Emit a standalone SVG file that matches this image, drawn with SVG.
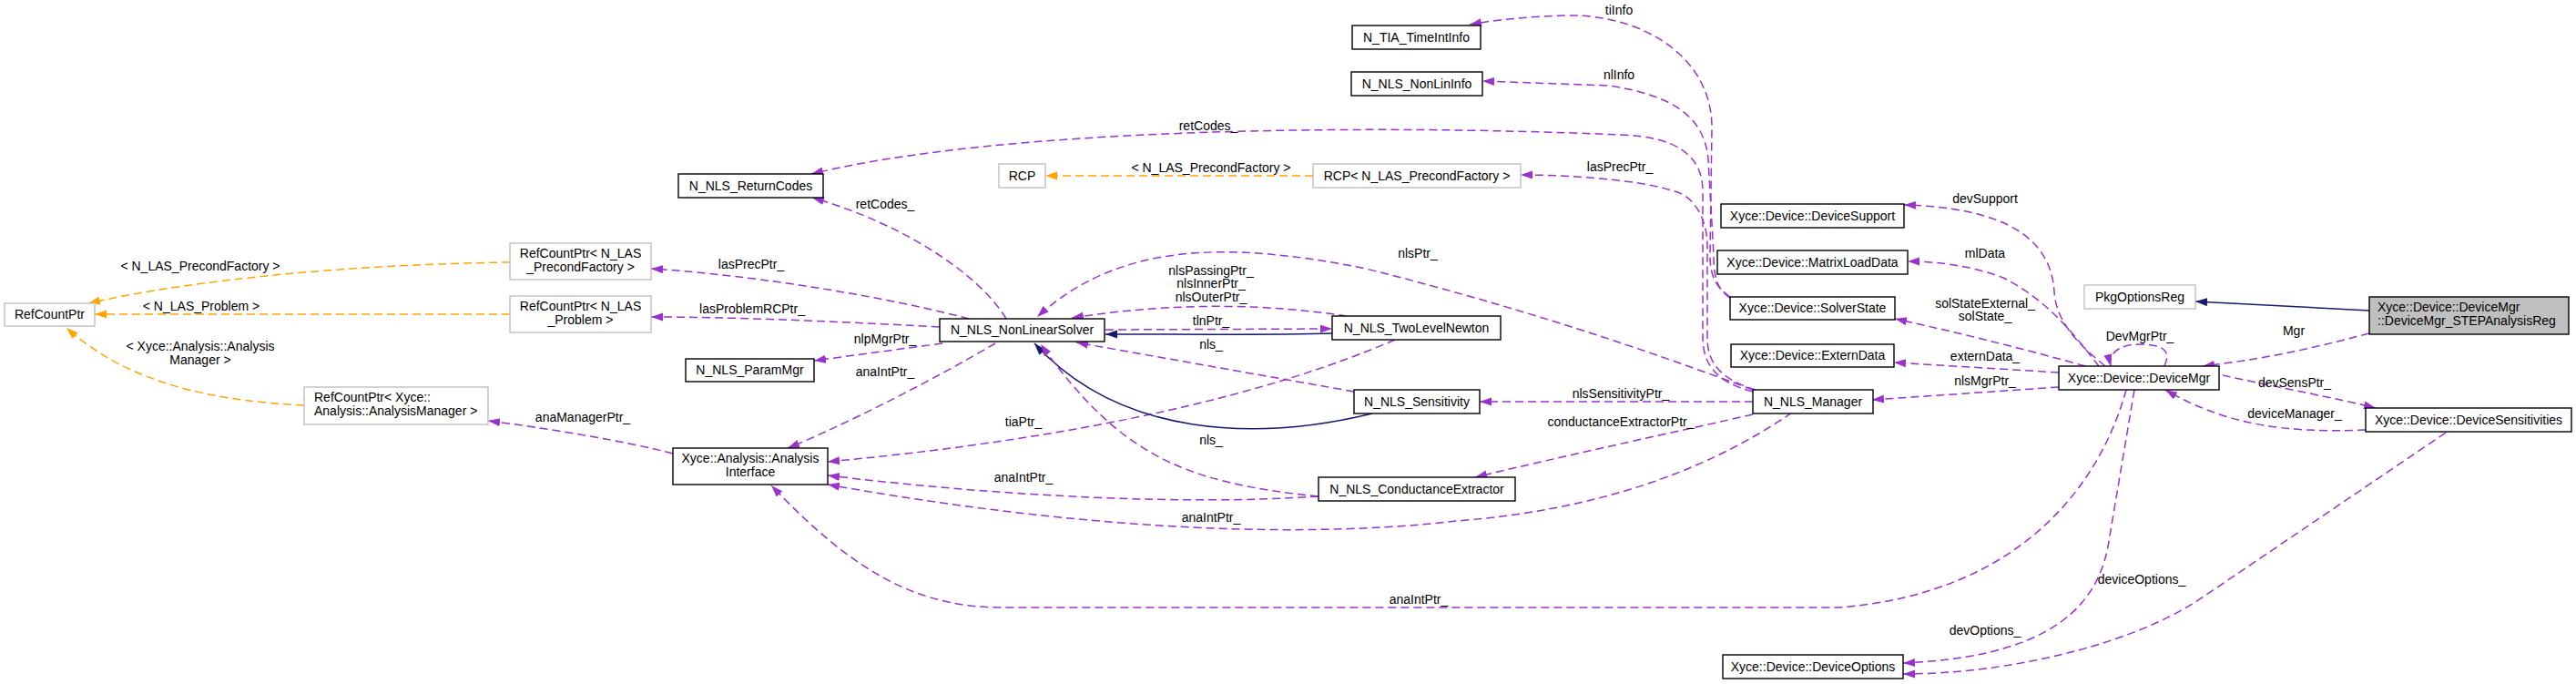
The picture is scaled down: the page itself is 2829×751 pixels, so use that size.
<svg xmlns="http://www.w3.org/2000/svg" width="2829" height="751" viewBox="0 0 2829 751">
<style>
text{font-family:"Liberation Sans",Arial,sans-serif;font-size:14px;fill:#000}
.n rect{fill:#fff;stroke:#000;stroke-width:1.4}
.g rect{fill:#fff;stroke:#bfbfbf;stroke-width:1.4}
.f rect{fill:#bfbfbf;stroke:#000;stroke-width:1.4}
.c{text-anchor:middle}
.p{fill:none;stroke:#9a32cd;stroke-width:1.5;stroke-dasharray:9,5;marker-end:url(#ap)}
.o{fill:none;stroke:#ffa500;stroke-width:1.5;stroke-dasharray:9,5;marker-end:url(#ao)}
.b{fill:none;stroke:#191970;stroke-width:1.5;marker-end:url(#ab)}
.l{text-anchor:middle}
</style>
<defs>
<marker id="ap" markerUnits="userSpaceOnUse" markerWidth="14" markerHeight="10" refX="13" refY="4.5" orient="auto"><path d="M0,0 L13,4.5 L0,9 z" fill="#9a32cd"/></marker>
<marker id="ao" markerUnits="userSpaceOnUse" markerWidth="14" markerHeight="10" refX="13" refY="4.5" orient="auto"><path d="M0,0 L13,4.5 L0,9 z" fill="#ffa500"/></marker>
<marker id="ab" markerUnits="userSpaceOnUse" markerWidth="14" markerHeight="10" refX="13" refY="4.5" orient="auto"><path d="M0,0 L13,4.5 L0,9 z" fill="#191970"/></marker>
</defs>
<rect width="2829" height="751" fill="#fff"/>
<g id="edges">
<path class="o" d="M560,288 C400,290 220,305 97,333"/>
<text class="l" x="220" y="297">&lt; N_LAS_PrecondFactory &gt;</text>
<path class="o" d="M560,345 L104,345"/>
<text class="l" x="221" y="341">&lt; N_LAS_Problem &gt;</text>
<path class="o" d="M334,445 C230,440 140,420 73,360"/>
<text class="l" x="220" y="385">&lt; Xyce::Analysis::Analysis</text>
<text class="l" x="220" y="400">Manager &gt;</text>
<path class="o" d="M1442,193 L1148,193"/>
<text class="l" x="1330" y="189">&lt; N_LAS_PrecondFactory &gt;</text>
<path class="p" d="M739,498 C690,485 600,470 536,462"/>
<text class="l" x="640" y="463">anaManagerPtr_</text>
<path class="p" d="M1105,350 C1075,300 990,245 892,217"/>
<text class="l" x="972" y="229">retCodes_</text>
<path class="p" d="M1064,350 C950,320 800,300 715,295"/>
<text class="l" x="825" y="295">lasPrecPtr_</text>
<path class="p" d="M1032,359 C900,352 800,348 715,348"/>
<text class="l" x="826" y="344">lasProblemRCPtr_</text>
<path class="p" d="M1035,377 L894,396"/>
<text class="l" x="972" y="377">nlpMgrPtr_</text>
<path class="p" d="M1093,377 C1020,420 920,470 865,492"/>
<text class="l" x="972" y="413">anaIntPtr_</text>
<path class="p" d="M1479,347 C1400,335 1300,330 1177,349"/>
<text class="l" x="1330" y="302">nlsPassingPtr_</text>
<text class="l" x="1330" y="316">nlsInnerPtr_</text>
<text class="l" x="1330" y="331">nlsOuterPtr_</text>
<path class="p" d="M1214,362 L1463,361"/>
<text class="l" x="1330" y="357">tlnPtr_</text>
<path class="b" d="M1463,366 C1400,368 1300,367 1214,367"/>
<path class="p" d="M1487,430 L1182,376"/>
<text class="l" x="1330" y="383">nls_</text>
<path class="p" d="M1532,373 C1400,430 1200,480 909,507"/>
<text class="l" x="1124" y="468">tiaPtr_</text>
<path class="b" d="M1507,454 C1380,485 1230,480 1136,377"/>
<path class="p" d="M1448,545 C1300,530 1230,500 1143,378"/>
<text class="l" x="1330" y="488">nls_</text>
<path class="p" d="M1448,545 C1300,555 1100,545 909,522"/>
<text class="l" x="1124" y="529">anaIntPtr_</text>
<path class="p" d="M1968,453 C1870,520 1750,560 1600,572 C1400,595 1150,575 909,532"/>
<text class="l" x="1330" y="573">anaIntPtr_</text>
<path class="p" d="M2335,428 C2310,520 2230,650 2020,667 L1100,667 C1000,667 930,620 847,533"/>
<text class="l" x="1558" y="663">anaIntPtr_</text>
<path class="p" d="M1925,441 L1625,441"/>
<text class="l" x="1780" y="437">nlsSensitivityPtr_</text>
<path class="p" d="M1925,455 C1850,472 1720,500 1620,524"/>
<text class="l" x="1780" y="468">conductanceExtractorPtr_</text>
<path class="p" d="M1925,428 C1850,400 1700,345 1500,295 C1350,265 1230,265 1139,348"/>
<text class="l" x="1557" y="283">nlsPtr_</text>
<path class="p" d="M1925,430 C1885,420 1870,400 1870,370 L1870,210 C1870,170 1840,150 1780,148 C1500,136 1100,140 891,191"/>
<text class="l" x="1327" y="143">retCodes_</text>
<path class="p" d="M1928,428 C1885,415 1875,395 1875,370 L1875,270 C1875,240 1860,215 1839,210 C1800,197 1720,192 1670,192"/>
<text class="l" x="1779" y="188">lasPrecPtr_</text>
<path class="p" d="M1900,326 C1885,315 1878,305 1878,280 L1880,140 C1880,60 1800,15 1720,17 C1680,18 1640,22 1614,27"/>
<text class="l" x="1778" y="16">tiInfo</text>
<path class="p" d="M1900,327 C1886,318 1882,305 1882,280 L1876,175 C1872,130 1840,105 1767,94 L1628,89"/>
<text class="l" x="1778" y="87">nlInfo</text>
<path class="p" d="M2312,402 C2285,380 2258,355 2256,320 C2252,260 2200,228 2091,225"/>
<text class="l" x="2180" y="223">devSupport</text>
<path class="p" d="M2305,402 C2280,370 2250,330 2200,305 C2160,290 2120,287 2095,287"/>
<text class="l" x="2180" y="283">mlData</text>
<path class="p" d="M2290,402 C2230,385 2150,365 2081,350"/>
<text class="l" x="2180" y="338">solStateExternal_</text>
<text class="l" x="2180" y="352">solState_</text>
<path class="p" d="M2261,409 L2080,398"/>
<text class="l" x="2180" y="396">externData_</text>
<path class="p" d="M2261,425 L2056,439"/>
<text class="l" x="2180" y="423">nlsMgrPtr_</text>
<path class="p" d="M2377,402 C2385,385 2375,378 2350,378 C2325,378 2315,390 2318,402"/>
<text class="l" x="2350" y="374">DevMgrPtr_</text>
<path class="p" d="M2602,366 C2530,385 2480,395 2419,402"/>
<text class="l" x="2519" y="368">Mgr</text>
<path class="b" d="M2602,341 L2411,331"/>
<path class="p" d="M2441,412 C2500,425 2570,438 2609,448"/>
<text class="l" x="2520" y="425">devSensPtr_</text>
<path class="p" d="M2598,472 C2520,475 2450,470 2378,428"/>
<text class="l" x="2520" y="459">deviceManager_</text>
<path class="p" d="M2344,428 L2315,600 C2300,680 2230,722 2090,728"/>
<text class="l" x="2180" y="697">devOptions_</text>
<path class="p" d="M2686,475 L2420,655 C2340,710 2200,740 2090,740"/>
<text class="l" x="2352" y="641">deviceOptions_</text>
</g>
<g id="RefCountPtr" class="g"><rect x="5" y="333" width="99" height="25"/><text class="c" x="54.5" y="350">RefCountPtr</text></g>
<g id="RefCountPtrPrecond" class="g"><rect x="560" y="267" width="155" height="40"/><text class="c" x="637.5" y="283">RefCountPtr&lt; N_LAS</text><text class="c" x="637.5" y="298">_PrecondFactory &gt;</text></g>
<g id="RefCountPtrProblem" class="g"><rect x="560" y="325" width="155" height="40"/><text class="c" x="637.5" y="341">RefCountPtr&lt; N_LAS</text><text class="c" x="637.5" y="356">_Problem &gt;</text></g>
<g id="RefCountPtrAnalysisMgr" class="g"><rect x="334" y="425" width="202" height="41"/><text x="345" y="441">RefCountPtr&lt; Xyce::</text><text x="345" y="456">Analysis::AnalysisManager &gt;</text></g>
<g id="RCP" class="g"><rect x="1097" y="180" width="51" height="26"/><text class="c" x="1122.5" y="198">RCP</text></g>
<g id="RCPPrecond" class="g"><rect x="1442" y="180" width="228" height="26"/><text class="c" x="1556" y="198">RCP&lt; N_LAS_PrecondFactory &gt;</text></g>
<g id="ReturnCodes" class="n"><rect x="745" y="191" width="159" height="26"/><text class="c" x="824.5" y="209">N_NLS_ReturnCodes</text></g>
<g id="NonLinearSolver" class="n"><rect x="1032" y="350" width="181" height="25"/><text class="c" x="1122.5" y="367">N_NLS_NonLinearSolver</text></g>
<g id="ParamMgr" class="n"><rect x="753" y="394" width="141" height="25"/><text class="c" x="823.5" y="411">N_NLS_ParamMgr</text></g>
<g id="AnalysisInterface" class="n"><rect x="739" y="492" width="170" height="40"/><text class="c" x="824" y="508">Xyce::Analysis::Analysis</text><text class="c" x="824" y="523">Interface</text></g>
<g id="TimeIntInfo" class="n"><rect x="1485" y="28" width="141" height="26"/><text class="c" x="1555.5" y="46">N_TIA_TimeIntInfo</text></g>
<g id="NonLinInfo" class="n"><rect x="1484" y="79" width="144" height="26"/><text class="c" x="1556" y="97">N_NLS_NonLinInfo</text></g>
<g id="TwoLevelNewton" class="n"><rect x="1463" y="347" width="185" height="26"/><text class="c" x="1555.5" y="365">N_NLS_TwoLevelNewton</text></g>
<g id="Sensitivity" class="n"><rect x="1487" y="428" width="138" height="26"/><text class="c" x="1556" y="446">N_NLS_Sensitivity</text></g>
<g id="ConductanceExtractor" class="n"><rect x="1448" y="524" width="216" height="26"/><text class="c" x="1556" y="542">N_NLS_ConductanceExtractor</text></g>
<g id="DeviceSupport" class="n"><rect x="1890" y="224" width="201" height="26"/><text class="c" x="1990.5" y="242">Xyce::Device::DeviceSupport</text></g>
<g id="MatrixLoadData" class="n"><rect x="1886" y="275" width="209" height="26"/><text class="c" x="1990.5" y="293">Xyce::Device::MatrixLoadData</text></g>
<g id="SolverState" class="n"><rect x="1900" y="326" width="181" height="25"/><text class="c" x="1990.5" y="343">Xyce::Device::SolverState</text></g>
<g id="ExternData" class="n"><rect x="1901" y="378" width="179" height="25"/><text class="c" x="1990.5" y="395">Xyce::Device::ExternData</text></g>
<g id="NLSManager" class="n"><rect x="1925" y="428" width="132" height="26"/><text class="c" x="1991" y="446">N_NLS_Manager</text></g>
<g id="DeviceOptions" class="n"><rect x="1892" y="719" width="198" height="26"/><text class="c" x="1991" y="737">Xyce::Device::DeviceOptions</text></g>
<g id="PkgOptionsReg" class="g"><rect x="2289" y="313" width="122" height="26"/><text class="c" x="2350" y="331">PkgOptionsReg</text></g>
<g id="STEPAnalysisReg" class="f"><rect x="2602" y="326" width="219" height="41"/><text x="2611" y="342">Xyce::Device::DeviceMgr</text><text x="2611" y="357">::DeviceMgr_STEPAnalysisReg</text></g>
<g id="DeviceMgr" class="n"><rect x="2261" y="402" width="176" height="26"/><text class="c" x="2349" y="420">Xyce::Device::DeviceMgr</text></g>
<g id="DeviceSensitivities" class="n"><rect x="2598" y="448" width="226" height="26"/><text class="c" x="2711" y="466">Xyce::Device::DeviceSensitivities</text></g>
</svg>
